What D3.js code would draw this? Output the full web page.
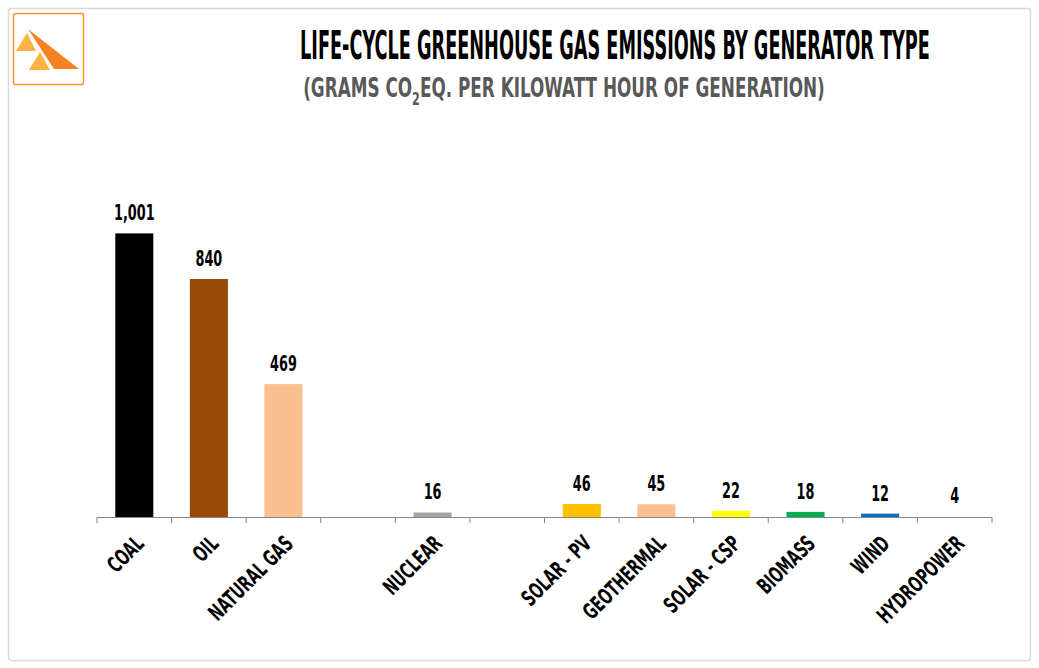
<!DOCTYPE html>
<html><head><meta charset="utf-8">
<script src="https://cdn.jsdelivr.net/npm/d3@7"></script>
<style>
body{margin:0;background:#fff;}
text{font-family:"DejaVu Sans Condensed","Liberation Sans Narrow",sans-serif;font-weight:bold;}
</style></head>
<body><svg id="c" width="1039" height="668"></svg>
<script>
const categories = ["COAL","OIL","NATURAL GAS","","NUCLEAR","","SOLAR - PV","GEOTHERMAL","SOLAR - CSP","BIOMASS","WIND","HYDROPOWER"];
const values = [1001,840,469,null,16,null,46,45,22,18,12,4];
const colors = ["#000000","#984807","#FAC090",null,"#A6A6A6",null,"#FFC000","#FAC090","#FFFF00","#00B050","#0070C0","#FFFFFF"];
const valueLabels = ["1,001","840","469","","16","","46","45","22","18","12","4"];

const svg = d3.select("#c");
svg.append("rect").attr("x",8.5).attr("y",8.5).attr("width",1022).attr("height",652).attr("rx",3)
  .attr("fill","#fff").attr("stroke","#D9D9D9").attr("stroke-width",1.5);
const lg = svg.append("g");
lg.append("rect").attr("x",13.5).attr("y",13.5).attr("width",70).attr("height",71).attr("rx",2)
  .attr("fill","#fff").attr("stroke","#F7922E").attr("stroke-width",1.5);
lg.append("path").attr("d","M16,51 L27,33 L36,51 Z").attr("fill","#FDB241");
lg.append("path").attr("d","M29,70 L40,52 L50,70 Z").attr("fill","#FDB241");
lg.append("path").attr("d","M28,29 L79,69 L54,69 Z").attr("fill","#F58220");

function fit(t, w){ const l=t.node().getComputedTextLength(); const X=+t.attr("x"),Y=+t.attr("y");
  t.attr("transform",`translate(${X},${Y}) scale(${w/l},1) translate(${-X},${-Y})`);}

const title = svg.append("text").attr("x",615).attr("y",59).attr("text-anchor","middle")
  .attr("font-size",39).attr("fill","#000").text("LIFE-CYCLE GREENHOUSE GAS EMISSIONS BY GENERATOR TYPE");
fit(title,630);
const sub = svg.append("text").attr("x",564).attr("y",97).attr("text-anchor","middle")
  .attr("font-size",27).attr("fill","#595959");
sub.append("tspan").text("(GRAMS CO");
sub.append("tspan").attr("font-size",18).attr("dy",8).text("2");
sub.append("tspan").attr("dy",-8).text("EQ. PER KILOWATT HOUR OF GENERATION)");
fit(sub,522);

const x0=97, x1=992, yBase=517;
const x = d3.scaleBand().domain(d3.range(categories.length)).range([x0,x1]).paddingInner(0.49).paddingOuter(0.245);
const y = d3.scaleLinear().domain([0,1200]).range([yBase,yBase-340]);

const g = svg.append("g");
values.forEach((v,i)=>{
  if(v==null) return;
  g.append("rect").attr("x",x(i)).attr("width",x.bandwidth()).attr("y",y(v)).attr("height",yBase-y(v)).attr("fill",colors[i]);
  const cx = x(i)+x.bandwidth()/2, cy = y(v)-13;
  g.append("text").attr("text-anchor","middle").attr("font-size",21).attr("fill","#000")
    .attr("transform",`translate(${cx},${cy}) scale(0.68,1)`).text(valueLabels[i]);
});

const step = (x1-x0)/categories.length;
const ax = svg.append("g");
ax.append("line").attr("x1",x0).attr("x2",x1).attr("y1",yBase+0.5).attr("y2",yBase+0.5).attr("stroke","#868686").attr("stroke-width",1);
d3.range(categories.length+1).forEach(k=>{
  const xx = x0+k*step;
  ax.append("line").attr("x1",xx).attr("x2",xx).attr("y1",yBase).attr("y2",yBase+6).attr("stroke","#868686");
});
categories.forEach((c,i)=>{
  if(!c) return;
  const cx = x(i)+x.bandwidth()/2 + 11;
  ax.append("text").attr("text-anchor","end").attr("font-size",22).attr("fill","#000")
    .attr("transform",`translate(${cx},${yBase+28}) rotate(-45) scale(0.7,1)`).text(c);
});
</script></body></html>
